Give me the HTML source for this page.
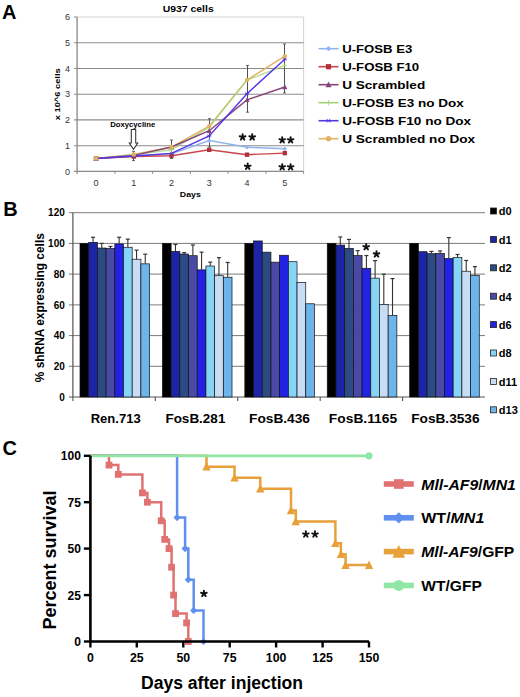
<!DOCTYPE html>
<html><head><meta charset="utf-8"><title>Figure</title>
<style>
html,body{margin:0;padding:0;background:#fff;}
body{width:520px;height:697px;overflow:hidden;font-family:"Liberation Sans", sans-serif;}
svg{display:block;font-family:"Liberation Sans", sans-serif;}
</style></head><body>
<svg width="520" height="697" viewBox="0 0 520 697">
<rect width="520" height="697" fill="#fff"/>
<text x="2.0" y="18.8" font-size="20" font-weight="bold" font-style="normal" text-anchor="start" fill="#000" >A</text>
<text x="3.3" y="215.8" font-size="20" font-weight="bold" font-style="normal" text-anchor="start" fill="#000" >B</text>
<text x="2.6" y="455.3" font-size="20" font-weight="bold" font-style="normal" text-anchor="start" fill="#000" >C</text>
<rect x="77.1" y="17.0" width="226.5" height="154.4" fill="none" stroke="#d4d4d4" stroke-width="1"/>
<line x1="74.1" y1="145.7" x2="303.6" y2="145.7" stroke="#8c8c8c" stroke-width="1.1"/>
<line x1="74.1" y1="119.9" x2="303.6" y2="119.9" stroke="#8c8c8c" stroke-width="1.1"/>
<line x1="74.1" y1="94.2" x2="303.6" y2="94.2" stroke="#8c8c8c" stroke-width="1.1"/>
<line x1="74.1" y1="68.5" x2="303.6" y2="68.5" stroke="#8c8c8c" stroke-width="1.1"/>
<line x1="74.1" y1="42.8" x2="303.6" y2="42.8" stroke="#8c8c8c" stroke-width="1.1"/>
<line x1="74.1" y1="17.0" x2="77.1" y2="17.0" stroke="#8c8c8c" stroke-width="1.1"/>
<line x1="74.1" y1="171.4" x2="303.6" y2="171.4" stroke="#8c8c8c" stroke-width="1.1"/>
<line x1="77.1" y1="17.0" x2="77.1" y2="173.9" stroke="#8c8c8c" stroke-width="1.2"/>
<line x1="114.9" y1="171.4" x2="114.9" y2="173.9" stroke="#8c8c8c" stroke-width="1"/>
<line x1="152.6" y1="171.4" x2="152.6" y2="173.9" stroke="#8c8c8c" stroke-width="1"/>
<line x1="190.4" y1="171.4" x2="190.4" y2="173.9" stroke="#8c8c8c" stroke-width="1"/>
<line x1="228.1" y1="171.4" x2="228.1" y2="173.9" stroke="#8c8c8c" stroke-width="1"/>
<line x1="265.9" y1="171.4" x2="265.9" y2="173.9" stroke="#8c8c8c" stroke-width="1"/>
<line x1="303.6" y1="171.4" x2="303.6" y2="173.9" stroke="#8c8c8c" stroke-width="1"/>
<text x="70.0" y="174.6" font-size="9" font-weight="normal" font-style="normal" text-anchor="end" fill="#333" >0</text>
<text x="70.0" y="148.9" font-size="9" font-weight="normal" font-style="normal" text-anchor="end" fill="#333" >1</text>
<text x="70.0" y="123.1" font-size="9" font-weight="normal" font-style="normal" text-anchor="end" fill="#333" >2</text>
<text x="70.0" y="97.4" font-size="9" font-weight="normal" font-style="normal" text-anchor="end" fill="#333" >3</text>
<text x="70.0" y="71.7" font-size="9" font-weight="normal" font-style="normal" text-anchor="end" fill="#333" >4</text>
<text x="70.0" y="46.0" font-size="9" font-weight="normal" font-style="normal" text-anchor="end" fill="#333" >5</text>
<text x="70.0" y="20.2" font-size="9" font-weight="normal" font-style="normal" text-anchor="end" fill="#333" >6</text>
<text x="96.0" y="185.8" font-size="9" font-weight="normal" font-style="normal" text-anchor="middle" fill="#333" >0</text>
<text x="133.8" y="185.8" font-size="9" font-weight="normal" font-style="normal" text-anchor="middle" fill="#333" >1</text>
<text x="171.5" y="185.8" font-size="9" font-weight="normal" font-style="normal" text-anchor="middle" fill="#333" >2</text>
<text x="209.2" y="185.8" font-size="9" font-weight="normal" font-style="normal" text-anchor="middle" fill="#333" >3</text>
<text x="247.0" y="185.8" font-size="9" font-weight="normal" font-style="normal" text-anchor="middle" fill="#333" >4</text>
<text x="284.8" y="185.8" font-size="9" font-weight="normal" font-style="normal" text-anchor="middle" fill="#333" >5</text>
<text x="190.3" y="197.0" font-size="8" font-weight="bold" font-style="normal" text-anchor="middle" fill="#000" textLength="21" lengthAdjust="spacingAndGlyphs" >Days</text>
<text x="188.2" y="12.0" font-size="9.5" font-weight="bold" font-style="normal" text-anchor="middle" fill="#000" textLength="51" lengthAdjust="spacingAndGlyphs" >U937 cells</text>
<text x="0" y="0" font-size="8" font-weight="bold" text-anchor="middle" textLength="52" lengthAdjust="spacingAndGlyphs" transform="translate(60.2,94.3) rotate(-90)">x 10^6 cells</text>
<text x="132.7" y="127.0" font-size="7.7" font-weight="bold" font-style="normal" text-anchor="middle" fill="#000" textLength="45" lengthAdjust="spacingAndGlyphs" >Doxycycline</text>
<path d="M131.3,129.5 L135.7,129.5 L135.7,143 L137.7,143 L133.5,149.2 L129.3,143 L131.3,143 Z" fill="#fff" stroke="#333" stroke-width="1.05"/>
<line x1="133.5" y1="151.3" x2="133.5" y2="160.6" stroke="#505050" stroke-width="1"/>
<line x1="132.0" y1="151.3" x2="135.0" y2="151.3" stroke="#555" stroke-width="0.9"/>
<line x1="132.0" y1="160.6" x2="135.0" y2="160.6" stroke="#555" stroke-width="0.9"/>
<line x1="171.5" y1="140.0" x2="171.5" y2="158.5" stroke="#505050" stroke-width="1"/>
<line x1="170.0" y1="140.0" x2="173.0" y2="140.0" stroke="#555" stroke-width="0.9"/>
<line x1="170.0" y1="158.5" x2="173.0" y2="158.5" stroke="#555" stroke-width="0.9"/>
<line x1="209.5" y1="118.7" x2="209.5" y2="147.0" stroke="#505050" stroke-width="1"/>
<line x1="208.0" y1="118.7" x2="211.0" y2="118.7" stroke="#555" stroke-width="0.9"/>
<line x1="208.0" y1="147.0" x2="211.0" y2="147.0" stroke="#555" stroke-width="0.9"/>
<line x1="247.5" y1="65.4" x2="247.5" y2="112.2" stroke="#505050" stroke-width="1"/>
<line x1="246.0" y1="65.4" x2="249.0" y2="65.4" stroke="#555" stroke-width="0.9"/>
<line x1="246.0" y1="112.2" x2="249.0" y2="112.2" stroke="#555" stroke-width="0.9"/>
<line x1="284.5" y1="44.0" x2="284.5" y2="92.9" stroke="#505050" stroke-width="1"/>
<line x1="283.0" y1="44.0" x2="286.0" y2="44.0" stroke="#555" stroke-width="0.9"/>
<line x1="283.0" y1="92.9" x2="286.0" y2="92.9" stroke="#555" stroke-width="0.9"/>
<polyline points="96.0,158.5 133.8,154.4 171.5,147.0 209.2,126.1 247.0,80.1 284.8,56.1" fill="none" stroke="#e2b262" stroke-width="1.4"/>
<polyline points="96.0,158.5 133.8,154.7 171.5,149.8 209.2,127.1 247.0,80.1 284.8,65.4" fill="none" stroke="#a4d474" stroke-width="1.4" stroke-opacity="0.8"/>
<polyline points="96.0,158.5 133.8,155.4 171.5,147.0 209.2,130.7 247.0,99.9 284.8,87.0" fill="none" stroke="#86467a" stroke-width="1.4"/>
<polyline points="96.0,158.5 133.8,156.0 171.5,153.9 209.2,140.5 247.0,147.2 284.8,148.8" fill="none" stroke="#90b4f0" stroke-width="1.4"/>
<polyline points="96.0,158.5 133.8,156.5 171.5,155.7 209.2,149.8 247.0,154.7 284.8,153.1" fill="none" stroke="#c8454e" stroke-width="1.4"/>
<polyline points="96.0,158.5 133.8,156.0 171.5,153.4 209.2,135.9 247.0,93.7 284.8,59.2" fill="none" stroke="#5434e4" stroke-width="1.4"/>
<path d="M96.0,156.3 L98.2,158.5 L96.0,160.7 L93.8,158.5 Z" fill="#90b4f0"/>
<path d="M133.8,153.8 L136.0,156.0 L133.8,158.2 L131.60000000000002,156.0 Z" fill="#90b4f0"/>
<path d="M171.5,151.70000000000002 L173.7,153.9 L171.5,156.1 L169.3,153.9 Z" fill="#90b4f0"/>
<path d="M209.2,138.3 L211.39999999999998,140.5 L209.2,142.7 L207.0,140.5 Z" fill="#90b4f0"/>
<path d="M247.0,145.0 L249.2,147.2 L247.0,149.39999999999998 L244.8,147.2 Z" fill="#90b4f0"/>
<path d="M284.8,146.60000000000002 L287.0,148.8 L284.8,151.0 L282.6,148.8 Z" fill="#90b4f0"/>
<rect x="93.8" y="156.3" width="4.4" height="4.4" fill="#b0303c"/>
<rect x="131.60000000000002" y="154.3" width="4.4" height="4.4" fill="#b0303c"/>
<rect x="169.3" y="153.5" width="4.4" height="4.4" fill="#b0303c"/>
<rect x="207.0" y="147.60000000000002" width="4.4" height="4.4" fill="#b0303c"/>
<rect x="244.8" y="152.5" width="4.4" height="4.4" fill="#b0303c"/>
<rect x="282.6" y="150.9" width="4.4" height="4.4" fill="#b0303c"/>
<path d="M96.0,155.8 L98.60000000000001,160.7 L93.39999999999999,160.7 Z" fill="#86467a"/>
<path d="M133.8,152.70000000000002 L136.4,157.6 L131.20000000000002,157.6 Z" fill="#86467a"/>
<path d="M171.5,144.3 L174.1,149.2 L168.9,149.2 Z" fill="#86467a"/>
<path d="M209.2,128.0 L211.79999999999998,132.89999999999998 L206.6,132.89999999999998 Z" fill="#86467a"/>
<path d="M247.0,97.2 L249.6,102.10000000000001 L244.4,102.10000000000001 Z" fill="#86467a"/>
<path d="M284.8,84.3 L287.4,89.2 L282.20000000000005,89.2 Z" fill="#86467a"/>
<path d="M93.8,158.5 L98.2,158.5 M96.0,156.3 L96.0,160.7" stroke="#a4d474" stroke-width="0.8"/>
<path d="M131.60000000000002,154.7 L136.0,154.7 M133.8,152.5 L133.8,156.89999999999998" stroke="#a4d474" stroke-width="0.8"/>
<path d="M169.3,149.8 L173.7,149.8 M171.5,147.60000000000002 L171.5,152.0" stroke="#a4d474" stroke-width="0.8"/>
<path d="M207.0,127.1 L211.39999999999998,127.1 M209.2,124.89999999999999 L209.2,129.29999999999998" stroke="#a4d474" stroke-width="0.8"/>
<path d="M244.8,80.1 L249.2,80.1 M247.0,77.89999999999999 L247.0,82.3" stroke="#a4d474" stroke-width="0.8"/>
<path d="M282.6,65.4 L287.0,65.4 M284.8,63.2 L284.8,67.60000000000001" stroke="#a4d474" stroke-width="0.8"/>
<path d="M93.8,158.5 L98.2,158.5 M94.46,156.96 L97.54,160.04 M94.46,160.04 L97.54,156.96" stroke="#5434e4" stroke-width="0.8"/>
<path d="M131.60000000000002,156.0 L136.0,156.0 M132.26000000000002,154.46 L135.34,157.54 M132.26000000000002,157.54 L135.34,154.46" stroke="#5434e4" stroke-width="0.8"/>
<path d="M169.3,153.4 L173.7,153.4 M169.96,151.86 L173.04,154.94 M169.96,154.94 L173.04,151.86" stroke="#5434e4" stroke-width="0.8"/>
<path d="M207.0,135.9 L211.39999999999998,135.9 M207.66,134.36 L210.73999999999998,137.44 M207.66,137.44 L210.73999999999998,134.36" stroke="#5434e4" stroke-width="0.8"/>
<path d="M244.8,93.7 L249.2,93.7 M245.46,92.16 L248.54,95.24000000000001 M245.46,95.24000000000001 L248.54,92.16" stroke="#5434e4" stroke-width="0.8"/>
<path d="M282.6,59.2 L287.0,59.2 M283.26,57.660000000000004 L286.34000000000003,60.74 M283.26,60.74 L286.34000000000003,57.660000000000004" stroke="#5434e4" stroke-width="0.8"/>
<circle cx="96.0" cy="158.5" r="2.2" fill="#e2b262"/>
<circle cx="133.8" cy="154.4" r="2.2" fill="#e2b262"/>
<circle cx="171.5" cy="147.0" r="2.2" fill="#e2b262"/>
<circle cx="209.2" cy="126.1" r="2.2" fill="#e2b262"/>
<circle cx="247.0" cy="80.1" r="2.2" fill="#e2b262"/>
<circle cx="284.8" cy="56.1" r="2.2" fill="#e2b262"/>
<path d="M242.60,137.19 L242.60,134.19 M242.60,137.19 L245.45,136.26 M242.60,137.19 L244.36,139.61 M242.60,137.19 L240.84,139.61 M242.60,137.19 L239.75,136.26 " stroke="#111" stroke-width="1.9" stroke-linecap="round" fill="none"/>
<path d="M252.20,137.19 L252.20,134.19 M252.20,137.19 L255.05,136.26 M252.20,137.19 L253.96,139.61 M252.20,137.19 L250.44,139.61 M252.20,137.19 L249.35,136.26 " stroke="#111" stroke-width="1.9" stroke-linecap="round" fill="none"/>
<path d="M282.20,140.09 L282.20,137.09 M282.20,140.09 L285.05,139.16 M282.20,140.09 L283.96,142.51 M282.20,140.09 L280.44,142.51 M282.20,140.09 L279.35,139.16 " stroke="#111" stroke-width="1.9" stroke-linecap="round" fill="none"/>
<path d="M290.60,140.09 L290.60,137.09 M290.60,140.09 L293.45,139.16 M290.60,140.09 L292.36,142.51 M290.60,140.09 L288.84,142.51 M290.60,140.09 L287.75,139.16 " stroke="#111" stroke-width="1.9" stroke-linecap="round" fill="none"/>
<path d="M247.70,166.48 L247.70,163.48 M247.70,166.48 L250.55,165.56 M247.70,166.48 L249.46,168.91 M247.70,166.48 L245.94,168.91 M247.70,166.48 L244.85,165.56 " stroke="#111" stroke-width="1.9" stroke-linecap="round" fill="none"/>
<path d="M282.20,167.09 L282.20,164.09 M282.20,167.09 L285.05,166.16 M282.20,167.09 L283.96,169.51 M282.20,167.09 L280.44,169.51 M282.20,167.09 L279.35,166.16 " stroke="#111" stroke-width="1.9" stroke-linecap="round" fill="none"/>
<path d="M290.60,167.09 L290.60,164.09 M290.60,167.09 L293.45,166.16 M290.60,167.09 L292.36,169.51 M290.60,167.09 L288.84,169.51 M290.60,167.09 L287.75,166.16 " stroke="#111" stroke-width="1.9" stroke-linecap="round" fill="none"/>
<line x1="318.5" y1="48.7" x2="338.5" y2="48.7" stroke="#90b4f0" stroke-width="1.6"/>
<path d="M328.5,46.1 L331.1,48.7 L328.5,51.300000000000004 L325.9,48.7 Z" fill="#90b4f0"/>
<text x="342.2" y="52.9" font-size="11.5" font-weight="bold" font-style="normal" text-anchor="start" fill="#000" textLength="70" lengthAdjust="spacingAndGlyphs" >U-FOSB E3</text>
<line x1="318.5" y1="66.7" x2="338.5" y2="66.7" stroke="#c8454e" stroke-width="1.6"/>
<rect x="325.9" y="64.10000000000001" width="5.2" height="5.2" fill="#b0303c"/>
<text x="342.2" y="70.9" font-size="11.5" font-weight="bold" font-style="normal" text-anchor="start" fill="#000" textLength="77" lengthAdjust="spacingAndGlyphs" >U-FOSB F10</text>
<line x1="318.5" y1="84.7" x2="338.5" y2="84.7" stroke="#86467a" stroke-width="1.6"/>
<path d="M328.5,81.60000000000001 L331.5,87.3 L325.5,87.3 Z" fill="#86467a"/>
<text x="342.2" y="88.9" font-size="11.5" font-weight="bold" font-style="normal" text-anchor="start" fill="#000" textLength="83" lengthAdjust="spacingAndGlyphs" >U Scrambled</text>
<line x1="318.5" y1="102.7" x2="338.5" y2="102.7" stroke="#a4d474" stroke-width="1.6"/>
<path d="M325.9,102.7 L331.1,102.7 M328.5,100.10000000000001 L328.5,105.3" stroke="#a4d474" stroke-width="0.8"/>
<text x="342.2" y="106.9" font-size="11.5" font-weight="bold" font-style="normal" text-anchor="start" fill="#000" textLength="121.5" lengthAdjust="spacingAndGlyphs" >U-FOSB E3 no Dox</text>
<line x1="318.5" y1="120.7" x2="338.5" y2="120.7" stroke="#5434e4" stroke-width="1.6"/>
<path d="M325.9,120.7 L331.1,120.7 M326.68,118.88000000000001 L330.32,122.52 M326.68,122.52 L330.32,118.88000000000001" stroke="#5434e4" stroke-width="0.8"/>
<text x="342.2" y="124.9" font-size="11.5" font-weight="bold" font-style="normal" text-anchor="start" fill="#000" textLength="129" lengthAdjust="spacingAndGlyphs" >U-FOSB F10 no Dox</text>
<line x1="318.5" y1="138.7" x2="338.5" y2="138.7" stroke="#e2b262" stroke-width="1.6"/>
<circle cx="328.5" cy="138.7" r="2.6" fill="#e2b262"/>
<text x="342.2" y="142.9" font-size="11.5" font-weight="bold" font-style="normal" text-anchor="start" fill="#000" textLength="133" lengthAdjust="spacingAndGlyphs" >U Scrambled no Dox</text>
<line x1="68.9" y1="366.3" x2="485.0" y2="366.3" stroke="#7a7a7a" stroke-width="1"/>
<line x1="68.9" y1="335.6" x2="485.0" y2="335.6" stroke="#7a7a7a" stroke-width="1"/>
<line x1="68.9" y1="304.9" x2="485.0" y2="304.9" stroke="#7a7a7a" stroke-width="1"/>
<line x1="68.9" y1="274.1" x2="485.0" y2="274.1" stroke="#7a7a7a" stroke-width="1"/>
<line x1="68.9" y1="243.4" x2="485.0" y2="243.4" stroke="#7a7a7a" stroke-width="1"/>
<line x1="68.9" y1="212.7" x2="485.0" y2="212.7" stroke="#7a7a7a" stroke-width="1"/>
<line x1="68.9" y1="397.0" x2="485.0" y2="397.0" stroke="#555" stroke-width="1.2"/>
<line x1="72.9" y1="212.7" x2="72.9" y2="397.0" stroke="#555" stroke-width="1.2"/>
<line x1="72.9" y1="397.0" x2="72.9" y2="401.0" stroke="#555" stroke-width="1.1"/>
<line x1="155.3" y1="397.0" x2="155.3" y2="401.0" stroke="#555" stroke-width="1.1"/>
<line x1="237.7" y1="397.0" x2="237.7" y2="401.0" stroke="#555" stroke-width="1.1"/>
<line x1="320.2" y1="397.0" x2="320.2" y2="401.0" stroke="#555" stroke-width="1.1"/>
<line x1="402.6" y1="397.0" x2="402.6" y2="401.0" stroke="#555" stroke-width="1.1"/>
<text x="64.8" y="400.6" font-size="10" font-weight="bold" font-style="normal" text-anchor="end" fill="#000" >0</text>
<text x="64.8" y="369.9" font-size="10" font-weight="bold" font-style="normal" text-anchor="end" fill="#000" >20</text>
<text x="64.8" y="339.2" font-size="10" font-weight="bold" font-style="normal" text-anchor="end" fill="#000" >40</text>
<text x="64.8" y="308.5" font-size="10" font-weight="bold" font-style="normal" text-anchor="end" fill="#000" >60</text>
<text x="64.8" y="277.7" font-size="10" font-weight="bold" font-style="normal" text-anchor="end" fill="#000" >80</text>
<text x="64.8" y="247.0" font-size="10" font-weight="bold" font-style="normal" text-anchor="end" fill="#000" >100</text>
<text x="64.8" y="216.3" font-size="10" font-weight="bold" font-style="normal" text-anchor="end" fill="#000" >120</text>
<text x="0" y="0" font-size="12" font-weight="bold" text-anchor="middle" textLength="149" lengthAdjust="spacingAndGlyphs" transform="translate(44.4,307.7) rotate(-90)">% shRNA expressing cells</text>
<rect x="80.00" y="243.42" width="8.70" height="153.58" fill="#000000" stroke="#111" stroke-width="0.7"/>
<rect x="88.70" y="242.34" width="8.70" height="154.66" fill="#1c24a8" stroke="#111" stroke-width="0.7"/>
<rect x="97.40" y="248.03" width="8.70" height="148.97" fill="#2c4a84" stroke="#111" stroke-width="0.7"/>
<rect x="106.10" y="248.49" width="8.70" height="148.51" fill="#4a4aa6" stroke="#111" stroke-width="0.7"/>
<rect x="114.80" y="244.03" width="8.70" height="152.97" fill="#2222e4" stroke="#111" stroke-width="0.7"/>
<rect x="123.50" y="247.26" width="8.70" height="149.74" fill="#86d4f6" stroke="#111" stroke-width="0.7"/>
<rect x="132.20" y="259.24" width="8.70" height="137.76" fill="#c8dcf6" stroke="#111" stroke-width="0.7"/>
<rect x="140.90" y="263.85" width="8.70" height="133.15" fill="#6cb4ec" stroke="#111" stroke-width="0.7"/>
<line x1="93.05" y1="237.28" x2="93.05" y2="242.34" stroke="#333" stroke-width="1.1"/>
<line x1="91.05" y1="237.28" x2="95.05" y2="237.28" stroke="#333" stroke-width="1.2"/>
<line x1="101.75" y1="243.42" x2="101.75" y2="248.03" stroke="#333" stroke-width="1.1"/>
<line x1="99.75" y1="243.42" x2="103.75" y2="243.42" stroke="#333" stroke-width="1.2"/>
<line x1="110.45" y1="246.49" x2="110.45" y2="248.49" stroke="#333" stroke-width="1.1"/>
<line x1="108.45" y1="246.49" x2="112.45" y2="246.49" stroke="#333" stroke-width="1.2"/>
<line x1="119.15" y1="237.28" x2="119.15" y2="244.03" stroke="#333" stroke-width="1.1"/>
<line x1="117.15" y1="237.28" x2="121.15" y2="237.28" stroke="#333" stroke-width="1.2"/>
<line x1="127.85" y1="239.12" x2="127.85" y2="247.26" stroke="#333" stroke-width="1.1"/>
<line x1="125.85" y1="239.12" x2="129.85" y2="239.12" stroke="#333" stroke-width="1.2"/>
<line x1="136.55" y1="250.18" x2="136.55" y2="259.24" stroke="#333" stroke-width="1.1"/>
<line x1="134.55" y1="250.18" x2="138.55" y2="250.18" stroke="#333" stroke-width="1.2"/>
<line x1="145.25" y1="254.17" x2="145.25" y2="263.85" stroke="#333" stroke-width="1.1"/>
<line x1="143.25" y1="254.17" x2="147.25" y2="254.17" stroke="#333" stroke-width="1.2"/>
<rect x="162.42" y="243.42" width="8.70" height="153.58" fill="#000000" stroke="#111" stroke-width="0.7"/>
<rect x="171.12" y="251.41" width="8.70" height="145.59" fill="#1c24a8" stroke="#111" stroke-width="0.7"/>
<rect x="179.82" y="254.02" width="8.70" height="142.98" fill="#2c4a84" stroke="#111" stroke-width="0.7"/>
<rect x="188.52" y="255.71" width="8.70" height="141.29" fill="#4a4aa6" stroke="#111" stroke-width="0.7"/>
<rect x="197.22" y="269.84" width="8.70" height="127.16" fill="#2222e4" stroke="#111" stroke-width="0.7"/>
<rect x="205.92" y="266.00" width="8.70" height="131.00" fill="#86d4f6" stroke="#111" stroke-width="0.7"/>
<rect x="214.62" y="275.67" width="8.70" height="121.33" fill="#c8dcf6" stroke="#111" stroke-width="0.7"/>
<rect x="223.32" y="277.21" width="8.70" height="119.79" fill="#6cb4ec" stroke="#111" stroke-width="0.7"/>
<line x1="175.47" y1="244.50" x2="175.47" y2="251.41" stroke="#333" stroke-width="1.1"/>
<line x1="173.47" y1="244.50" x2="177.47" y2="244.50" stroke="#333" stroke-width="1.2"/>
<line x1="184.17" y1="252.63" x2="184.17" y2="254.02" stroke="#333" stroke-width="1.1"/>
<line x1="182.17" y1="252.63" x2="186.17" y2="252.63" stroke="#333" stroke-width="1.2"/>
<line x1="192.87" y1="244.96" x2="192.87" y2="255.71" stroke="#333" stroke-width="1.1"/>
<line x1="190.87" y1="244.96" x2="194.87" y2="244.96" stroke="#333" stroke-width="1.2"/>
<line x1="201.57" y1="252.17" x2="201.57" y2="269.84" stroke="#333" stroke-width="1.1"/>
<line x1="199.57" y1="252.17" x2="203.57" y2="252.17" stroke="#333" stroke-width="1.2"/>
<line x1="210.27" y1="262.16" x2="210.27" y2="266.00" stroke="#333" stroke-width="1.1"/>
<line x1="208.27" y1="262.16" x2="212.27" y2="262.16" stroke="#333" stroke-width="1.2"/>
<line x1="218.97" y1="257.70" x2="218.97" y2="275.67" stroke="#333" stroke-width="1.1"/>
<line x1="216.97" y1="257.70" x2="220.97" y2="257.70" stroke="#333" stroke-width="1.2"/>
<line x1="227.67" y1="262.46" x2="227.67" y2="277.21" stroke="#333" stroke-width="1.1"/>
<line x1="225.67" y1="262.46" x2="229.67" y2="262.46" stroke="#333" stroke-width="1.2"/>
<rect x="244.84" y="243.42" width="8.70" height="153.58" fill="#000000" stroke="#111" stroke-width="0.7"/>
<rect x="253.54" y="240.96" width="8.70" height="156.04" fill="#1c24a8" stroke="#111" stroke-width="0.7"/>
<rect x="262.24" y="252.17" width="8.70" height="144.83" fill="#2c4a84" stroke="#111" stroke-width="0.7"/>
<rect x="270.94" y="262.16" width="8.70" height="134.84" fill="#4a4aa6" stroke="#111" stroke-width="0.7"/>
<rect x="279.64" y="255.25" width="8.70" height="141.75" fill="#2222e4" stroke="#111" stroke-width="0.7"/>
<rect x="288.34" y="261.70" width="8.70" height="135.30" fill="#86d4f6" stroke="#111" stroke-width="0.7"/>
<rect x="297.04" y="282.43" width="8.70" height="114.57" fill="#c8dcf6" stroke="#111" stroke-width="0.7"/>
<rect x="305.74" y="303.78" width="8.70" height="93.22" fill="#6cb4ec" stroke="#111" stroke-width="0.7"/>
<rect x="327.26" y="243.42" width="8.70" height="153.58" fill="#000000" stroke="#111" stroke-width="0.7"/>
<rect x="335.96" y="245.11" width="8.70" height="151.89" fill="#1c24a8" stroke="#111" stroke-width="0.7"/>
<rect x="344.66" y="248.33" width="8.70" height="148.67" fill="#2c4a84" stroke="#111" stroke-width="0.7"/>
<rect x="353.36" y="255.55" width="8.70" height="141.45" fill="#4a4aa6" stroke="#111" stroke-width="0.7"/>
<rect x="362.06" y="268.30" width="8.70" height="128.70" fill="#2222e4" stroke="#111" stroke-width="0.7"/>
<rect x="370.76" y="278.13" width="8.70" height="118.87" fill="#86d4f6" stroke="#111" stroke-width="0.7"/>
<rect x="379.46" y="304.54" width="8.70" height="92.46" fill="#c8dcf6" stroke="#111" stroke-width="0.7"/>
<rect x="388.16" y="315.45" width="8.70" height="81.55" fill="#6cb4ec" stroke="#111" stroke-width="0.7"/>
<line x1="340.31" y1="236.97" x2="340.31" y2="245.11" stroke="#333" stroke-width="1.1"/>
<line x1="338.31" y1="236.97" x2="342.31" y2="236.97" stroke="#333" stroke-width="1.2"/>
<line x1="349.01" y1="239.43" x2="349.01" y2="248.33" stroke="#333" stroke-width="1.1"/>
<line x1="347.01" y1="239.43" x2="351.01" y2="239.43" stroke="#333" stroke-width="1.2"/>
<line x1="357.71" y1="250.64" x2="357.71" y2="255.55" stroke="#333" stroke-width="1.1"/>
<line x1="355.71" y1="250.64" x2="359.71" y2="250.64" stroke="#333" stroke-width="1.2"/>
<line x1="366.41" y1="255.55" x2="366.41" y2="268.30" stroke="#333" stroke-width="1.1"/>
<line x1="364.41" y1="255.55" x2="368.41" y2="255.55" stroke="#333" stroke-width="1.2"/>
<line x1="375.11" y1="260.62" x2="375.11" y2="278.13" stroke="#333" stroke-width="1.1"/>
<line x1="373.11" y1="260.62" x2="377.11" y2="260.62" stroke="#333" stroke-width="1.2"/>
<line x1="383.81" y1="274.14" x2="383.81" y2="304.54" stroke="#333" stroke-width="1.1"/>
<line x1="381.81" y1="274.14" x2="385.81" y2="274.14" stroke="#333" stroke-width="1.2"/>
<line x1="392.51" y1="278.59" x2="392.51" y2="315.45" stroke="#333" stroke-width="1.1"/>
<line x1="390.51" y1="278.59" x2="394.51" y2="278.59" stroke="#333" stroke-width="1.2"/>
<rect x="409.68" y="243.42" width="8.70" height="153.58" fill="#000000" stroke="#111" stroke-width="0.7"/>
<rect x="418.38" y="251.71" width="8.70" height="145.29" fill="#1c24a8" stroke="#111" stroke-width="0.7"/>
<rect x="427.08" y="253.71" width="8.70" height="143.29" fill="#2c4a84" stroke="#111" stroke-width="0.7"/>
<rect x="435.78" y="253.40" width="8.70" height="143.60" fill="#4a4aa6" stroke="#111" stroke-width="0.7"/>
<rect x="444.48" y="258.47" width="8.70" height="138.53" fill="#2222e4" stroke="#111" stroke-width="0.7"/>
<rect x="453.18" y="257.55" width="8.70" height="139.45" fill="#86d4f6" stroke="#111" stroke-width="0.7"/>
<rect x="461.88" y="271.22" width="8.70" height="125.78" fill="#c8dcf6" stroke="#111" stroke-width="0.7"/>
<rect x="470.58" y="275.52" width="8.70" height="121.48" fill="#6cb4ec" stroke="#111" stroke-width="0.7"/>
<line x1="431.43" y1="251.41" x2="431.43" y2="253.71" stroke="#333" stroke-width="1.1"/>
<line x1="429.43" y1="251.41" x2="433.43" y2="251.41" stroke="#333" stroke-width="1.2"/>
<line x1="440.13" y1="250.95" x2="440.13" y2="253.40" stroke="#333" stroke-width="1.1"/>
<line x1="438.13" y1="250.95" x2="442.13" y2="250.95" stroke="#333" stroke-width="1.2"/>
<line x1="448.83" y1="237.58" x2="448.83" y2="258.47" stroke="#333" stroke-width="1.1"/>
<line x1="446.83" y1="237.58" x2="450.83" y2="237.58" stroke="#333" stroke-width="1.2"/>
<line x1="457.53" y1="254.48" x2="457.53" y2="257.55" stroke="#333" stroke-width="1.1"/>
<line x1="455.53" y1="254.48" x2="459.53" y2="254.48" stroke="#333" stroke-width="1.2"/>
<line x1="466.23" y1="260.47" x2="466.23" y2="271.22" stroke="#333" stroke-width="1.1"/>
<line x1="464.23" y1="260.47" x2="468.23" y2="260.47" stroke="#333" stroke-width="1.2"/>
<line x1="474.93" y1="266.61" x2="474.93" y2="275.52" stroke="#333" stroke-width="1.1"/>
<line x1="472.93" y1="266.61" x2="476.93" y2="266.61" stroke="#333" stroke-width="1.2"/>
<path d="M366.20,246.98 L366.20,243.98 M366.20,246.98 L369.05,246.06 M366.20,246.98 L367.96,249.41 M366.20,246.98 L364.44,249.41 M366.20,246.98 L363.35,246.06 " stroke="#111" stroke-width="1.9" stroke-linecap="round" fill="none"/>
<path d="M376.50,254.19 L376.50,251.19 M376.50,254.19 L379.35,253.26 M376.50,254.19 L378.26,256.61 M376.50,254.19 L374.74,256.61 M376.50,254.19 L373.65,253.26 " stroke="#111" stroke-width="1.9" stroke-linecap="round" fill="none"/>
<text x="115.7" y="422.8" font-size="13" font-weight="bold" font-style="normal" text-anchor="middle" fill="#000" textLength="50" lengthAdjust="spacingAndGlyphs" >Ren.713</text>
<text x="195.4" y="422.8" font-size="13" font-weight="bold" font-style="normal" text-anchor="middle" fill="#000" textLength="60" lengthAdjust="spacingAndGlyphs" >FosB.281</text>
<text x="279.5" y="422.8" font-size="13" font-weight="bold" font-style="normal" text-anchor="middle" fill="#000" textLength="61" lengthAdjust="spacingAndGlyphs" >FosB.436</text>
<text x="363.0" y="422.8" font-size="13" font-weight="bold" font-style="normal" text-anchor="middle" fill="#000" textLength="68.3" lengthAdjust="spacingAndGlyphs" >FosB.1165</text>
<text x="445.4" y="422.8" font-size="13" font-weight="bold" font-style="normal" text-anchor="middle" fill="#000" textLength="68.4" lengthAdjust="spacingAndGlyphs" >FosB.3536</text>
<rect x="490.5" y="208.0" width="6" height="6" fill="#000000" stroke="#222" stroke-width="0.8"/>
<text x="498.8" y="215.3" font-size="11" font-weight="bold" font-style="normal" text-anchor="start" fill="#000" >d0</text>
<rect x="490.5" y="236.4" width="6" height="6" fill="#1c24a8" stroke="#222" stroke-width="0.8"/>
<text x="498.8" y="243.7" font-size="11" font-weight="bold" font-style="normal" text-anchor="start" fill="#000" >d1</text>
<rect x="490.5" y="264.8" width="6" height="6" fill="#2c4a84" stroke="#222" stroke-width="0.8"/>
<text x="498.8" y="272.1" font-size="11" font-weight="bold" font-style="normal" text-anchor="start" fill="#000" >d2</text>
<rect x="490.5" y="293.2" width="6" height="6" fill="#4a4aa6" stroke="#222" stroke-width="0.8"/>
<text x="498.8" y="300.5" font-size="11" font-weight="bold" font-style="normal" text-anchor="start" fill="#000" >d4</text>
<rect x="490.5" y="321.6" width="6" height="6" fill="#2222e4" stroke="#222" stroke-width="0.8"/>
<text x="498.8" y="328.9" font-size="11" font-weight="bold" font-style="normal" text-anchor="start" fill="#000" >d6</text>
<rect x="490.5" y="350.0" width="6" height="6" fill="#86d4f6" stroke="#222" stroke-width="0.8"/>
<text x="498.8" y="357.3" font-size="11" font-weight="bold" font-style="normal" text-anchor="start" fill="#000" >d8</text>
<rect x="490.5" y="378.4" width="6" height="6" fill="#c8dcf6" stroke="#222" stroke-width="0.8"/>
<text x="498.8" y="385.7" font-size="11" font-weight="bold" font-style="normal" text-anchor="start" fill="#000" >d11</text>
<rect x="490.5" y="406.8" width="6" height="6" fill="#6cb4ec" stroke="#222" stroke-width="0.8"/>
<text x="498.8" y="414.1" font-size="11" font-weight="bold" font-style="normal" text-anchor="start" fill="#000" >d13</text>
<path d="M90.4,455.8 H206.5 V466.8 H234.5 V477.7 H260.3 V488.7 H291.0 V510.4 H295.8 V521.4 H335.4 V543.3 H340.9 V554.2 H345.6 V565.0 H369.0" stroke="#e8a03a" stroke-width="2.5" fill="none"/>
<path d="M90.4,455.8 H177.1 V517.6 H185.1 V548.6 H188.3 V579.7 H193.7 V610.5 H203.5 V641.5" stroke="#5f8ff0" stroke-width="2.5" fill="none"/>
<path d="M90.4,455.8 H109.0 V465.1 H118.3 V474.4 H142.4 V492.9 H147.4 V502.2 H161.2 V520.8 H164.7 V539.4 H169.0 V548.6 H171.6 V567.2 H173.6 V595.1 H175.5 V613.6 H186.6 V622.9 H188.3 V641.5" stroke="#e07272" stroke-width="2.5" fill="none"/>
<path d="M90.4,455.8 H369.0" stroke="#90e6a4" stroke-width="2.8" fill="none"/>
<rect x="105.6" y="461.7" width="6.8" height="6.8" fill="#e07272"/>
<rect x="114.9" y="471.0" width="6.8" height="6.8" fill="#e07272"/>
<rect x="139.0" y="489.5" width="6.8" height="6.8" fill="#e07272"/>
<rect x="144.0" y="498.8" width="6.8" height="6.8" fill="#e07272"/>
<rect x="157.8" y="517.4" width="6.8" height="6.8" fill="#e07272"/>
<rect x="161.3" y="536.0" width="6.8" height="6.8" fill="#e07272"/>
<rect x="165.6" y="545.2" width="6.8" height="6.8" fill="#e07272"/>
<rect x="168.2" y="563.8" width="6.8" height="6.8" fill="#e07272"/>
<rect x="170.2" y="591.7" width="6.8" height="6.8" fill="#e07272"/>
<rect x="172.1" y="610.2" width="6.8" height="6.8" fill="#e07272"/>
<rect x="183.2" y="619.5" width="6.8" height="6.8" fill="#e07272"/>
<rect x="184.9" y="638.1" width="6.8" height="6.8" fill="#e07272"/>
<path d="M177.1,514.0 L180.7,517.6 L177.1,521.2 L173.5,517.6 Z" fill="#5f8ff0"/>
<path d="M185.1,545.0 L188.7,548.6 L185.1,552.2 L181.5,548.6 Z" fill="#5f8ff0"/>
<path d="M188.3,576.1 L191.9,579.7 L188.3,583.3 L184.7,579.7 Z" fill="#5f8ff0"/>
<path d="M193.7,606.9 L197.3,610.5 L193.7,614.1 L190.1,610.5 Z" fill="#5f8ff0"/>
<path d="M203.5,637.9 L207.1,641.5 L203.5,645.1 L199.9,641.5 Z" fill="#5f8ff0"/>
<path d="M206.5,462.2 L210.7,470.6 L202.3,470.6 Z" fill="#e8a03a"/>
<path d="M234.5,473.2 L238.7,481.6 L230.3,481.6 Z" fill="#e8a03a"/>
<path d="M260.3,484.1 L264.5,492.5 L256.1,492.5 Z" fill="#e8a03a"/>
<path d="M291.0,505.9 L295.2,514.3 L286.8,514.3 Z" fill="#e8a03a"/>
<path d="M295.8,516.8 L300.0,525.2 L291.6,525.2 Z" fill="#e8a03a"/>
<path d="M335.4,538.7 L339.6,547.1 L331.2,547.1 Z" fill="#e8a03a"/>
<path d="M340.9,549.7 L345.1,558.1 L336.7,558.1 Z" fill="#e8a03a"/>
<path d="M345.6,560.5 L349.8,568.9 L341.4,568.9 Z" fill="#e8a03a"/>
<path d="M369.0,560.5 L373.2,568.9 L364.8,568.9 Z" fill="#e8a03a"/>
<circle cx="369.0" cy="455.8" r="3.6" fill="#90e6a4"/>
<path d="M90.4,455.8 V641.5 H369.0" stroke="#000" stroke-width="2.6" fill="none"/>
<line x1="83.9" y1="641.5" x2="90.4" y2="641.5" stroke="#000" stroke-width="2.4"/>
<text x="80.9" y="645.9" font-size="12" font-weight="bold" font-style="normal" text-anchor="end" fill="#000" >0</text>
<line x1="83.9" y1="595.1" x2="90.4" y2="595.1" stroke="#000" stroke-width="2.4"/>
<text x="80.9" y="599.5" font-size="12" font-weight="bold" font-style="normal" text-anchor="end" fill="#000" >25</text>
<line x1="83.9" y1="548.6" x2="90.4" y2="548.6" stroke="#000" stroke-width="2.4"/>
<text x="80.9" y="553.0" font-size="12" font-weight="bold" font-style="normal" text-anchor="end" fill="#000" >50</text>
<line x1="83.9" y1="502.2" x2="90.4" y2="502.2" stroke="#000" stroke-width="2.4"/>
<text x="80.9" y="506.6" font-size="12" font-weight="bold" font-style="normal" text-anchor="end" fill="#000" >75</text>
<line x1="83.9" y1="455.8" x2="90.4" y2="455.8" stroke="#000" stroke-width="2.4"/>
<text x="80.9" y="460.2" font-size="12" font-weight="bold" font-style="normal" text-anchor="end" fill="#000" >100</text>
<line x1="90.4" y1="641.5" x2="90.4" y2="647.5" stroke="#000" stroke-width="2.4"/>
<text x="90.4" y="661.5" font-size="12.3" font-weight="bold" font-style="normal" text-anchor="middle" fill="#000" >0</text>
<line x1="136.8" y1="641.5" x2="136.8" y2="647.5" stroke="#000" stroke-width="2.4"/>
<text x="136.8" y="661.5" font-size="12.3" font-weight="bold" font-style="normal" text-anchor="middle" fill="#000" >25</text>
<line x1="183.3" y1="641.5" x2="183.3" y2="647.5" stroke="#000" stroke-width="2.4"/>
<text x="183.3" y="661.5" font-size="12.3" font-weight="bold" font-style="normal" text-anchor="middle" fill="#000" >50</text>
<line x1="229.7" y1="641.5" x2="229.7" y2="647.5" stroke="#000" stroke-width="2.4"/>
<text x="229.7" y="661.5" font-size="12.3" font-weight="bold" font-style="normal" text-anchor="middle" fill="#000" >75</text>
<line x1="276.1" y1="641.5" x2="276.1" y2="647.5" stroke="#000" stroke-width="2.4"/>
<text x="276.1" y="661.5" font-size="12.3" font-weight="bold" font-style="normal" text-anchor="middle" fill="#000" >100</text>
<line x1="322.6" y1="641.5" x2="322.6" y2="647.5" stroke="#000" stroke-width="2.4"/>
<text x="322.6" y="661.5" font-size="12.3" font-weight="bold" font-style="normal" text-anchor="middle" fill="#000" >125</text>
<line x1="369.0" y1="641.5" x2="369.0" y2="647.5" stroke="#000" stroke-width="2.4"/>
<text x="369.0" y="661.5" font-size="12.3" font-weight="bold" font-style="normal" text-anchor="middle" fill="#000" >150</text>
<text x="222.0" y="688.5" font-size="18" font-weight="bold" font-style="normal" text-anchor="middle" fill="#000" textLength="162" lengthAdjust="spacingAndGlyphs" >Days after injection</text>
<text x="0" y="0" font-size="18" font-weight="bold" text-anchor="middle" textLength="139" lengthAdjust="spacingAndGlyphs" transform="translate(55.5,560) rotate(-90)">Percent survival</text>
<path d="M203.90,593.68 L203.90,590.68 M203.90,593.68 L206.75,592.76 M203.90,593.68 L205.66,596.11 M203.90,593.68 L202.14,596.11 M203.90,593.68 L201.05,592.76 " stroke="#111" stroke-width="1.9" stroke-linecap="round" fill="none"/>
<path d="M305.80,534.28 L305.80,531.28 M305.80,534.28 L308.65,533.36 M305.80,534.28 L307.56,536.71 M305.80,534.28 L304.04,536.71 M305.80,534.28 L302.95,533.36 " stroke="#111" stroke-width="1.9" stroke-linecap="round" fill="none"/>
<path d="M315.00,534.28 L315.00,531.28 M315.00,534.28 L317.85,533.36 M315.00,534.28 L316.76,536.71 M315.00,534.28 L313.24,536.71 M315.00,534.28 L312.15,533.36 " stroke="#111" stroke-width="1.9" stroke-linecap="round" fill="none"/>
<line x1="383.8" y1="484.0" x2="413.8" y2="484.0" stroke="#e07272" stroke-width="5.6"/>
<rect x="394.0" y="479.2" width="9.6" height="9.6" fill="#e07272"/>
<text x="421.3" y="489.6" font-size="15.5" font-weight="bold" font-style="normal" text-anchor="start" fill="#000" textLength="94.5" lengthAdjust="spacingAndGlyphs" ><tspan font-style="italic">Mll-AF9</tspan>/<tspan font-style="italic">MN1</tspan></text>
<line x1="383.8" y1="517.8" x2="413.8" y2="517.8" stroke="#5f8ff0" stroke-width="5.6"/>
<path d="M398.8,512.2 L404.4,517.8 L398.8,523.4 L393.2,517.8 Z" fill="#5f8ff0"/>
<text x="421.3" y="523.4" font-size="15.5" font-weight="bold" font-style="normal" text-anchor="start" fill="#000" textLength="63" lengthAdjust="spacingAndGlyphs" >WT/<tspan font-style="italic">MN1</tspan></text>
<line x1="383.8" y1="551.6" x2="413.8" y2="551.6" stroke="#e8a03a" stroke-width="5.6"/>
<path d="M398.8,545.0 L405.2,557.8 L392.4,557.8 Z" fill="#e8a03a"/>
<text x="421.3" y="557.2" font-size="15.5" font-weight="bold" font-style="normal" text-anchor="start" fill="#000" textLength="93" lengthAdjust="spacingAndGlyphs" ><tspan font-style="italic">Mll-AF9</tspan>/GFP</text>
<line x1="383.8" y1="585.4" x2="413.8" y2="585.4" stroke="#90e6a4" stroke-width="5.6"/>
<circle cx="398.8" cy="585.4" r="5.5" fill="#90e6a4"/>
<text x="421.3" y="591.0" font-size="15.5" font-weight="bold" font-style="normal" text-anchor="start" fill="#000" textLength="60.5" lengthAdjust="spacingAndGlyphs" >WT/GFP</text>
</svg>
</body></html>
